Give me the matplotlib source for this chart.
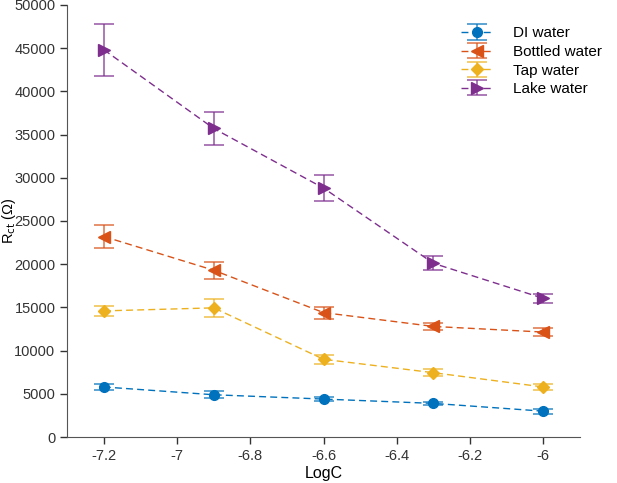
import numpy as np
import matplotlib.pyplot as plt
from matplotlib.colors import to_rgba

plt.rcParams['font.family'] = ['Liberation Sans', 'DejaVu Sans']

# ===================== 数据 =====================
logc = [-7.2, -6.9, -6.6, -6.3, -6.0]

di = [5800, 4900, 4400, 3900, 3000]
di_err = [400, 400, 200, 200, 300]

bottled = [23200, 19300, 14400, 12800, 12150]
bottled_err = [1300, 1000, 700, 400, 500]

tap = [14600, 14950, 9000, 7450, 5800]
tap_err = [600, 1000, 500, 400, 400]

lake = [44800, 35700, 28800, 20100, 16050]
lake_err = [3000, 1900, 1500, 800, 500]

labels = ['DI water', 'Bottled water', 'Tap water', 'Lake water']
colors = ['#0072BD', '#D95319', '#EDB120', '#7E2F8E']
markers = ['o', '<', 'D', '>']
msizes = [7, 8, 6, 8]

fig = plt.figure(figsize=(6.17, 4.83), dpi=100)
ax = fig.add_axes([0.109, 0.095, 0.831, 0.895])

series = [(di, di_err), (bottled, bottled_err), (tap, tap_err), (lake, lake_err)]
for (y, e), lab, c, m, ms in zip(series, labels, colors, markers, msizes):
    ax.errorbar(logc, y, yerr=e, color=c, ecolor=to_rgba(c, 0.75), linestyle='--',
                dashes=(5, 3), linewidth=1, marker=m, markersize=ms, capsize=7,
                elinewidth=1.2, capthick=1.2, label=lab)

ax.set_xlim(-7.3, -5.9)
ax.set_ylim(0, 50000)
ax.set_xticks([-7.2, -7, -6.8, -6.6, -6.4, -6.2, -6])
ax.set_xticklabels(['-7.2', '-7', '-6.8', '-6.6', '-6.4', '-6.2', '-6'])
ax.set_yticks(np.arange(0, 50001, 5000))
ax.tick_params(direction='out', length=5, width=1, labelsize=10.5, colors='#333333')
for s in ['top', 'right']:
    ax.spines[s].set_visible(False)
for s in ['left', 'bottom']:
    ax.spines[s].set_color('#555555')

ax.set_xlabel('LogC', fontsize=11.5, labelpad=2)
ax.set_ylabel('R$_{\\rm ct}$ (Ω)', fontsize=10.5, va='center')
ax.yaxis.set_label_coords(-0.113, 0.5)

ax.legend(loc='upper right', bbox_to_anchor=(0.985, 0.958),
          bbox_transform=fig.transFigure, borderaxespad=0, frameon=False,
          fontsize=11, handlelength=2.2, handletextpad=1.2, labelspacing=0.3)

fig.savefig('out.png', dpi=100)
